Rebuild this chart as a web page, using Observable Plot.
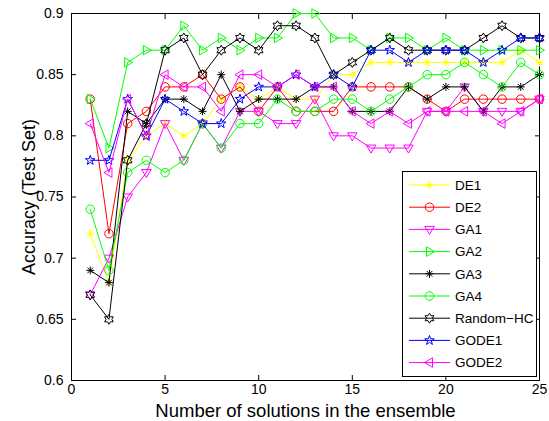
<!DOCTYPE html>
<html><head><meta charset="utf-8">
<script src="https://cdn.jsdelivr.net/npm/d3@7"></script>
<script src="https://cdn.jsdelivr.net/npm/@observablehq/plot@0.6"></script>
<style>
body{margin:0;background:#fff;font-family:"Liberation Sans",Arial,sans-serif;}
#wrap{position:relative;width:549px;height:421px;}
#legend{position:absolute;left:402px;top:171px;width:133px;height:204px;border:1px solid #000;background:#fff;}
#legend svg{display:block;}
</style></head><body><div id="wrap"></div>
<script>
const xs = [1,2,3,4,5,6,7,8,9,10,11,12,13,14,15,16,17,18,19,20,21,22,23,24,25];
const DE1 = [0.72,0.68,0.78,0.80,0.81,0.80,0.81,0.83,0.84,0.83,0.84,0.83,0.83,0.85,0.85,0.86,0.86,0.86,0.86,0.86,0.86,0.86,0.86,0.87,0.86];
const DE2 = [0.83,0.72,0.81,0.82,0.84,0.84,0.85,0.83,0.84,0.82,0.84,0.82,0.82,0.82,0.84,0.84,0.84,0.84,0.83,0.82,0.83,0.83,0.83,0.83,0.83];
const GA1 = [0.67,0.70,0.75,0.77,0.81,0.78,0.81,0.79,0.82,0.82,0.81,0.81,0.83,0.80,0.80,0.79,0.79,0.79,0.82,0.82,0.84,0.82,0.82,0.82,0.83];
const GA2 = [0.83,0.79,0.86,0.87,0.87,0.89,0.87,0.88,0.87,0.88,0.88,0.90,0.90,0.88,0.88,0.87,0.88,0.88,0.87,0.88,0.87,0.87,0.87,0.87,0.87];
const GA3 = [0.69,0.68,0.82,0.81,0.83,0.83,0.82,0.85,0.82,0.83,0.83,0.83,0.84,0.84,0.82,0.82,0.82,0.84,0.83,0.84,0.84,0.82,0.84,0.84,0.85];
const GA4 = [0.74,0.69,0.77,0.78,0.77,0.78,0.81,0.79,0.81,0.81,0.83,0.82,0.82,0.83,0.83,0.82,0.83,0.84,0.85,0.85,0.86,0.85,0.84,0.86,0.85];
const RandomHC = [0.67,0.65,0.78,0.81,0.87,0.88,0.85,0.87,0.88,0.87,0.89,0.89,0.88,0.85,0.86,0.87,0.88,0.87,0.87,0.87,0.87,0.88,0.89,0.88,0.88];
const GODE1 = [0.78,0.78,0.83,0.80,0.83,0.82,0.81,0.81,0.83,0.84,0.84,0.85,0.84,0.85,0.84,0.87,0.87,0.86,0.87,0.87,0.87,0.86,0.87,0.88,0.88];
const GODE2 = [0.81,0.77,0.83,0.80,0.85,0.84,0.84,0.82,0.85,0.85,0.84,0.85,0.84,0.84,0.82,0.81,0.82,0.81,0.82,0.82,0.82,0.82,0.81,0.82,0.83];

const seriesNames = ["DE1","DE2","GA1","GA2","GA3","GA4","Random\u2212HC","GODE1","GODE2"];
const seriesValues = [DE1,DE2,GA1,GA2,GA3,GA4,RandomHC,GODE1,GODE2];
const seriesColors = ["#ffff00","#ff0000","#ff00ff","#00ff00","#000000","#00ff00","#000000","#0000ff","#ff00ff"];
const seriesMarkers = ["asterisk","circle","triDown","triRight","asterisk","circle","hexagram","pentagram","triLeft"];
const xTicks = [0,5,10,15,20,25];
const yTicks = [0.6,0.65,0.7,0.75,0.8,0.85,0.9];
const yTickLabels = ["0.6","0.65","0.7","0.75","0.8","0.85","0.9"];
const xLabel = "Number of solutions in the ensemble";
const yLabel = "Accuracy (Test Set)";

function rad(size){ return Math.sqrt(size/Math.PI); }
function polySym(pts){
  return {draw(ctx,size){ const r=rad(size); pts.forEach(([a,b],i)=> i?ctx.lineTo(a*r,b*r):ctx.moveTo(a*r,b*r)); ctx.closePath(); }};
}
function starPts(n, inner, start){
  const p=[]; for(let i=0;i<2*n;i++){ const a=start+i*Math.PI/n; const rr=i%2?inner:1; p.push([rr*Math.cos(a), rr*Math.sin(a)]); } return p;
}
const symbols = {
  circle: {draw(ctx,size){ const r=rad(size)*0.85; ctx.moveTo(r,0); ctx.arc(0,0,r,0,2*Math.PI); }},
  asterisk: {draw(ctx,size){ const r=rad(size)*0.8; const d=r*0.7071;
    ctx.moveTo(-r,0);ctx.lineTo(r,0);ctx.moveTo(0,-r);ctx.lineTo(0,r);
    ctx.moveTo(-d,-d);ctx.lineTo(d,d);ctx.moveTo(-d,d);ctx.lineTo(d,-d); }},
  triDown: polySym([[0,1],[-0.95,-0.6],[0.95,-0.6]]),
  triRight: polySym([[1,0],[-0.6,-0.95],[-0.6,0.95]]),
  triLeft: polySym([[-1,0],[0.6,-0.95],[0.6,0.95]]),
  hexagram: polySym(starPts(6, 0.58, -Math.PI/2)),
  pentagram: polySym(starPts(5, 0.4, -Math.PI/2))
};

const marks = [];
seriesValues.forEach((vals, i) => {
  const data = xs.map((x, j) => ({x, y: vals[j]}));
  marks.push(Plot.line(data, {x:"x", y:"y", stroke: seriesColors[i], strokeWidth: 1}));
  marks.push(Plot.dot(data, {x:"x", y:"y", stroke: seriesColors[i], fill:"none", strokeWidth: 1, r: 5, symbol: symbols[seriesMarkers[i]]}));
});

const plot = Plot.plot({
  width: 549, height: 421,
  marginLeft: 71, marginRight: 10, marginTop: 13, marginBottom: 41,
  style: {fontFamily: "Liberation Sans, Arial, sans-serif", fontSize: "14px", background: "#fff", color: "#000", overflow: "visible"},
  x: {domain: [0, 25]},
  y: {domain: [0.6, 0.9]},
  marks: [
    Plot.frame({stroke: "#000", strokeWidth: 1}),
    Plot.axisX(xTicks, {anchor: "bottom", tickSize: -5, tickPadding: 9, label: null, tickFormat: d => String(d), fontSize: 14}),
    Plot.axisX(xTicks, {anchor: "top", tickSize: -5, label: null, tickFormat: () => ""}),
    Plot.axisY(yTicks, {anchor: "left", tickSize: -5, tickPadding: 13, label: null, tickFormat: (d, i) => yTickLabels[yTicks.indexOf(d)], fontSize: 14}),
    Plot.axisY(yTicks, {anchor: "right", tickSize: -5, label: null, tickFormat: () => ""}),
    ...marks,
    Plot.text([xLabel], {frameAnchor: "bottom", dy: 31, fontSize: 18.5, lineAnchor: "middle", textAnchor: "middle", text: d => d}),
    Plot.text([yLabel], {frameAnchor: "left", dx: -42, rotate: -90, fontSize: 18, lineAnchor: "middle", textAnchor: "middle", text: d => d})
  ]
});
const wrap = document.getElementById("wrap");
wrap.appendChild(plot);

// legend overlay
const leg = document.createElement("div");
leg.id = "legend";
wrap.appendChild(leg);
const lsvg = d3.select(leg).append("svg").attr("width", 133).attr("height", 204)
  .style("font-family", "Liberation Sans, Arial, sans-serif");
seriesNames.forEach((name, i) => {
  const y = 13 + i * 22.2;
  const g = lsvg.append("g").attr("transform", `translate(0,${y})`);
  g.append("line").attr("x1", 6).attr("x2", 47).attr("y1", 0).attr("y2", 0).attr("stroke", seriesColors[i]).attr("stroke-width", 1);
  g.append("path").attr("transform", "translate(26.5,0)")
    .attr("d", d3.symbol(symbols[seriesMarkers[i]], Math.PI * 25)())
    .attr("fill", "none").attr("stroke", seriesColors[i]).attr("stroke-width", 1);
  g.append("text").attr("x", 52).attr("y", 0).attr("dy", "0.35em").attr("font-size", 13.5).text(name);
});
</script>
</body></html>
